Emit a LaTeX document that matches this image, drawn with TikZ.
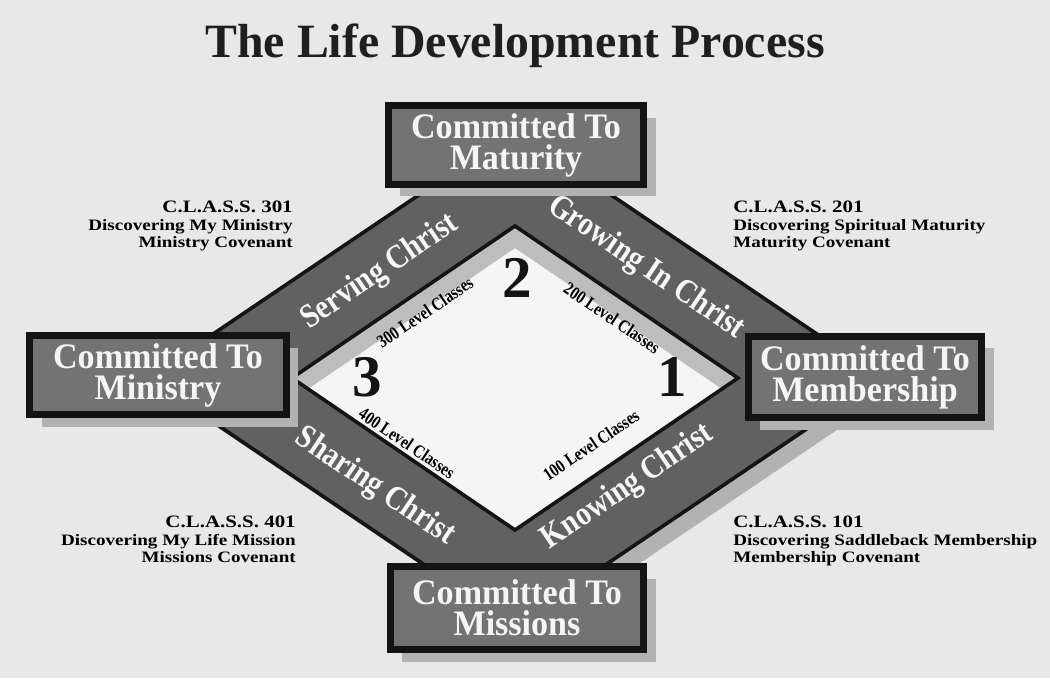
\documentclass[tikz,border=0pt]{standalone}
\usepackage{fontspec}
\setmainfont{Liberation Serif}
\newfontfamily\boxfont[FakeStretch=0.95]{Liberation Serif}
\newfontfamily\bandfont[FakeStretch=0.86]{Liberation Serif}
\newfontfamily\levelfont[FakeStretch=0.82]{Liberation Serif}
\newfontfamily\classfont[FakeStretch=1.2]{Liberation Serif}
\usetikzlibrary{shadows}

\begin{document}
\begin{tikzpicture}[x=0.025cm, y=-0.025cm,
    stage/.style={draw=black!92, line width=1.75mm, fill=black!55, text=black!4, align=center, inner sep=0pt,
      font=\boxfont\bfseries\fontsize{25.5}{22}\selectfont,
      drop shadow={shadow xshift=3mm, shadow yshift=-3mm, fill=black!30, opacity=1}},
    bandlabel/.style={text=black!3, inner sep=0pt, font=\bandfont\bfseries\fontsize{24}{24}\selectfont},
    levellabel/.style={inner sep=0pt, font=\levelfont\bfseries\fontsize{13}{13}\selectfont},
    stepnum/.style={inner sep=0pt, text=black!92, font=\bfseries\fontsize{42}{42}\selectfont},
    classinfo/.style={inner sep=0pt, font=\classfont\bfseries\fontsize{11.3}{12.45}\selectfont}]
    \useasboundingbox (0,0) rectangle (1050,678);
    \fill[black!9] (0,0) rectangle (1050,678);

    % corners of the two diamonds
    \coordinate (oL) at (148,378);
    \coordinate (oT) at (515,130);
    \coordinate (oR) at (882,378);
    \coordinate (oB) at (515,626);
    \coordinate (iL) at (292,378);
    \coordinate (iT) at (515,226);
    \coordinate (iR) at (738,378);
    \coordinate (iB) at (515,530);

    % the dark band and its shadow
    \fill[black!30] (162,390) -- (529,142) -- (896,390) -- (529,638) -- cycle;
    \fill[black!62] (oL) -- (oT) -- (oR) -- (oB) -- cycle;
    \draw[line width=0.9mm, black!92] (oL) -- (oT) -- (oR) -- (oB) -- cycle;
    \fill[black!4] (iL) -- (iT) -- (iR) -- (iB) -- cycle;
    \fill[black!26] (iL) -- (iT) -- (iR) -- (722,389) -- (515,248) -- (308,389) -- cycle;
    \draw[line width=0.9mm, black!92] (iL) -- (iT) -- (iR) -- (iB) -- cycle;

    \node[bandlabel, rotate=34] (serving) at (380,272) {Serving Christ};
    \node[bandlabel, rotate=-34] (growing) at (646,268) {Growing In Christ};
    \node[bandlabel, rotate=-34] (sharing) at (375,487) {Sharing Christ};
    \node[bandlabel, rotate=34] (knowing) at (628,487) {Knowing Christ};

    \node[levellabel, rotate=34] (lv300) at (425,312) {300 Level Classes};
    \node[levellabel, rotate=-34] (lv200) at (612,318) {200 Level Classes};
    \node[levellabel, rotate=-34] (lv400) at (407,443) {400 Level Classes};
    \node[levellabel, rotate=34] (lv100) at (591,445) {100 Level Classes};

    \node[stepnum] (one) at (672,377) {1};
    \node[stepnum] (two) at (517,278) {2};
    \node[stepnum] (three) at (367,377) {3};

    % the four commitments
    \node[stage, minimum width=63.75mm, minimum height=19.5mm] (maturity) at (516,145) {Committed To\\Maturity};
    \node[stage, minimum width=64mm, minimum height=19.75mm] (ministry) at (158,375) {Committed To\\Ministry};
    \node[stage, minimum width=58.25mm, minimum height=20.25mm] (membership) at (865,377) {Committed To\\Membership};
    \node[stage, minimum width=63.25mm, minimum height=20.75mm] (missions) at (517,608) {Committed To\\Missions};

    \node[classinfo, align=right, anchor=north east] (class301) at (293,201) {{\fontsize{12.4}{12.45}\selectfont C.L.A.S.S. 301}\\Discovering My Ministry\\Ministry Covenant};
    \node[classinfo, align=left, anchor=north west] (class201) at (733,201) {{\fontsize{12.4}{12.45}\selectfont C.L.A.S.S. 201}\\Discovering Spiritual Maturity\\Maturity Covenant};
    \node[classinfo, align=right, anchor=north east] (class401) at (296,516) {{\fontsize{12.4}{12.45}\selectfont C.L.A.S.S. 401}\\Discovering My Life Mission\\Missions Covenant};
    \node[classinfo, align=left, anchor=north west] (class101) at (733,516) {{\fontsize{12.4}{12.45}\selectfont C.L.A.S.S. 101}\\Discovering Saddleback Membership\\Membership Covenant};

    \node[font=\bfseries\fontsize{34}{40}\selectfont, anchor=base, text=black!88] (title) at (515,57) {The Life Development Process};
\end{tikzpicture}
\end{document}
